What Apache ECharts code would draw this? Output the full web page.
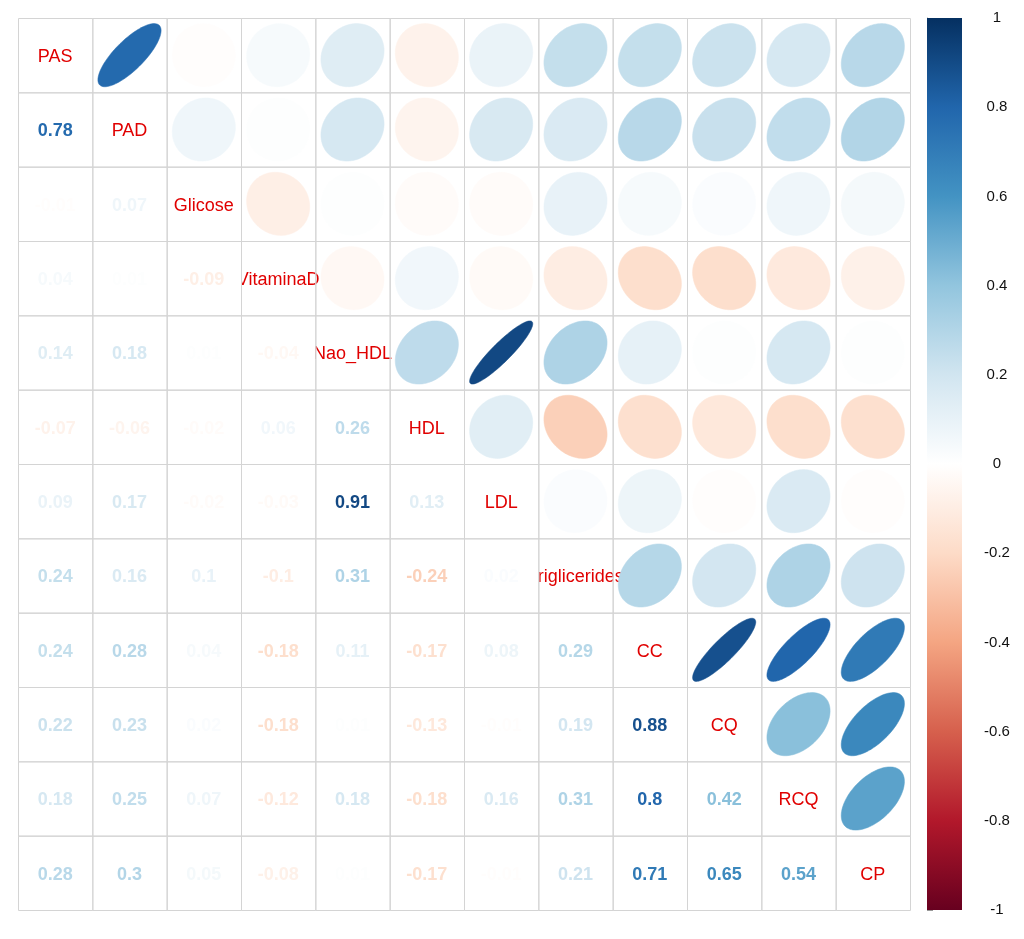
<!DOCTYPE html>
<html>
<head>
	<meta charset="UTF-8">
	<title>corrplot</title>
	<script src="https://cdn.jsdelivr.net/npm/echarts@6/dist/echarts.min.js"></script>
	<style>
		html, body { margin: 0; padding: 0; background: #fff; }
		#main { width: 1024px; height: 939px; }
	</style>
</head>
<body>
	<div id="main"></div>
	<script>
	// variable names (diagonal)
	var labels = ['PAS', 'PAD', 'Glicose', 'VitaminaD', 'Nao_HDL', 'HDL', 'LDL', 'Triglicerides', 'CC', 'CQ', 'RCQ', 'CP'];

	// lower triangle, one row per variable (values against the columns before it)
	var rowPAD = [0.78];
	var rowGlicose = [-0.01, 0.07];
	var rowVitaminaD = [0.04, 0.01, -0.09];
	var rowNaoHDL = [0.14, 0.18, 0.01, -0.04];
	var rowHDL = [-0.07, -0.06, -0.02, 0.06, 0.26];
	var rowLDL = [0.09, 0.17, -0.02, -0.03, 0.91, 0.13];
	var rowTrig = [0.24, 0.16, 0.1, -0.1, 0.31, -0.24, 0.02];
	var rowCC = [0.24, 0.28, 0.04, -0.18, 0.11, -0.17, 0.08, 0.29];
	var rowCQ = [0.22, 0.23, 0.02, -0.18, 0.01, -0.13, -0.01, 0.19, 0.88];
	var rowRCQ = [0.18, 0.25, 0.07, -0.12, 0.18, -0.18, 0.16, 0.31, 0.8, 0.42];
	var rowCP = [0.28, 0.3, 0.05, -0.08, 0.01, -0.17, -0.01, 0.21, 0.71, 0.65, 0.54];

	var lowerRows = [[], rowPAD, rowGlicose, rowVitaminaD, rowNaoHDL, rowHDL, rowLDL, rowTrig, rowCC, rowCQ, rowRCQ, rowCP];

	// RdBu palette from -1 to 1
	var paletteStops = ['#67001F', '#B2182B', '#D6604D', '#F4A582', '#FDDBC7', '#FFFFFF', '#D1E5F0', '#92C5DE', '#4393C3', '#2166AC', '#053061'];
	var barTicks = [-1, -0.8, -0.6, -0.4, -0.2, 0, 0.2, 0.4, 0.6, 0.8, 1];

	function hexToRgb(h) {
		return [parseInt(h.substr(1, 2), 16), parseInt(h.substr(3, 2), 16), parseInt(h.substr(5, 2), 16)];
	}
	function colorOf(v) {
		var t = (v + 1) / 2 * (paletteStops.length - 1);
		var i = Math.min(Math.floor(t), paletteStops.length - 2);
		var f = t - i;
		var a = hexToRgb(paletteStops[i]), b = hexToRgb(paletteStops[i + 1]);
		var c = [0, 1, 2].map(function(k) { return Math.round(a[k] + (b[k] - a[k]) * f); });
		return 'rgb(' + c.join(',') + ')';
	}
	function fmt(v) {
		return String(Math.round(v * 100) / 100);
	}
	function corr(i, j) {
		if (i == j) return 1;
		return i > j ? lowerRows[i][j] : lowerRows[j][i];
	}

	var n = labels.length;
	var cells = [];
	for (var r = 0; r < n; r++) {
		for (var c = 0; c < n; c++) {
			var kind = r == c ? 0 : (r > c ? 1 : 2);
			cells.push([c, r, corr(r, c), kind]);
		}
	}

	var FONT = '"Liberation Sans", Arial, Helvetica, sans-serif';

	function renderCell(params, api) {
		var c = api.value(0), r = api.value(1), v = api.value(2), kind = api.value(3);
		var p0 = api.coord([c, r]), p1 = api.coord([c + 1, r + 1]);
		var x = p0[0], y = p0[1], w = p1[0] - p0[0], h = p1[1] - p0[1];
		var cx = x + w / 2, cy = y + h / 2 + 2;
		var children = [];
		// white background for number cells covers overflowing labels
		if (kind == 1) {
			children.push({ type: 'rect', z2: 2, shape: { x: x, y: y, width: w, height: h }, style: { fill: '#fff' } });
		}
		children.push({ type: 'rect', z2: 3, shape: { x: x + 0.5, y: y + 0.5, width: w, height: h }, style: { fill: 'none', stroke: '#d4d4d4', lineWidth: 1 } });
		if (kind == 0) {
			children.push({
				type: 'text', z2: 1,
				style: { x: cx, y: cy, text: labels[r], fill: '#e00000', font: '18px ' + FONT, align: 'center', verticalAlign: 'middle' }
			});
		} else if (kind == 1) {
			children.push({
				type: 'text', z2: 5,
				style: { x: cx, y: cy, text: fmt(v), fill: colorOf(v), font: 'bold 18px ' + FONT, align: 'center', verticalAlign: 'middle' }
			});
		} else {
			var d = Math.acos(v), pts = [];
			for (var k = 0; k < 99; k++) {
				var t = 2 * Math.PI * k / 98;
				var ex = Math.cos(t + d / 2) / 2 * 0.85;
				var ey = Math.cos(t - d / 2) / 2 * 0.85;
				pts.push(api.coord([c + 0.5 + ex, r + 0.5 - ey]));
			}
			children.push({ type: 'polygon', z2: 4, shape: { points: pts }, style: { fill: colorOf(v), stroke: colorOf(v), lineWidth: 0.5 } });
		}
		return { type: 'group', children: children };
	}

	function renderBar(params, api) {
		var p0 = api.coord([0, 1]), p1 = api.coord([1, -1]);
		var stops = paletteStops.slice().reverse().map(function(col, i) {
			return { offset: i / (paletteStops.length - 1), color: col };
		});
		return {
			type: 'rect',
			shape: { x: p0[0], y: p0[1], width: p1[0] - p0[0], height: p1[1] - p0[1] },
			style: { fill: new echarts.graphic.LinearGradient(0, 0, 0, 1, stops) }
		};
	}

	var myChart = echarts.init(document.getElementById('main'));
	var option = {
		animation: false,
		backgroundColor: '#fff',
		grid: [
			{ left: 18, top: 18, width: 892, height: 892 },
			{ left: 927, top: 18, width: 35, height: 892 }
		],
		xAxis: [
			{ gridIndex: 0, type: 'value', min: 0, max: n, show: false },
			{ gridIndex: 1, type: 'value', min: 0, max: 1, show: false }
		],
		yAxis: [
			{ gridIndex: 0, type: 'value', min: 0, max: n, inverse: true, show: false },
			{
				gridIndex: 1, type: 'value', position: 'right',
				min: barTicks[0], max: barTicks[barTicks.length - 1], interval: 0.2,
				axisLine: { show: true, lineStyle: { color: '#999', width: 1 } },
				axisTick: { show: true, length: 6, lineStyle: { color: '#999' } },
				splitLine: { show: false },
				axisLabel: {
					margin: 35, align: 'center', color: '#111', fontSize: 15, fontFamily: FONT,
					padding: [4, 0, 0, 0],
					formatter: function(val) { return fmt(val); }
				}
			}
		],
		series: [
			{
				type: 'custom', xAxisIndex: 0, yAxisIndex: 0,
				renderItem: renderCell, data: cells, silent: true, clip: false
			},
			{
				type: 'custom', xAxisIndex: 1, yAxisIndex: 1,
				renderItem: renderBar, data: [[0, 0]], silent: true
			}
		]
	};
	myChart.setOption(option);
	</script>
</body>
</html>
